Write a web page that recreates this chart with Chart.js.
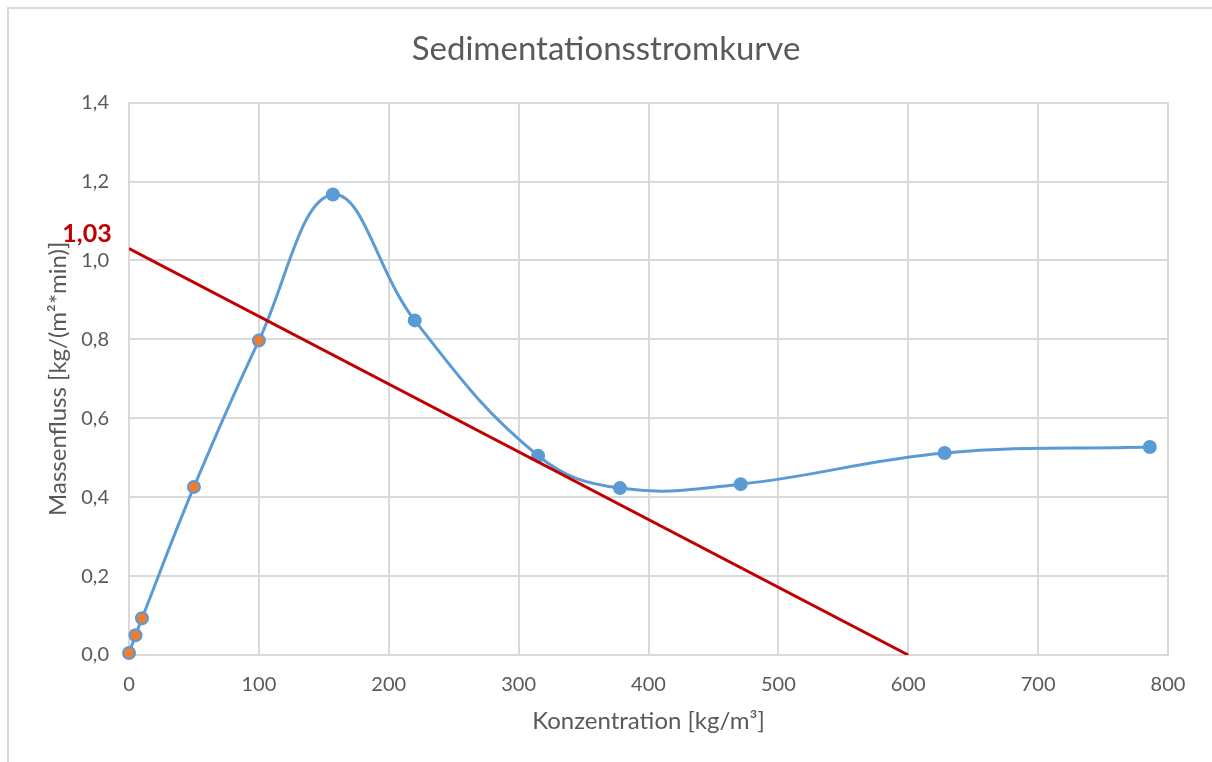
<!DOCTYPE html>
<html>
<head>
<meta charset="utf-8">
<script src="https://cdn.jsdelivr.net/npm/chart.js@4.4.1/dist/chart.umd.min.js"></script>
<style>
  html, body { margin: 0; padding: 0; background: #ffffff; }
  #wrap { width: 1212px; height: 762px; position: relative; }
</style>
</head>
<body>
<div id="wrap"><canvas id="c" width="1212" height="762"></canvas></div>
<script>
// ---- data ----
const concentration = [0, 5, 10, 50, 100, 157, 220, 315, 378, 471, 628, 786];
const massFlux      = [0.005, 0.05, 0.093, 0.426, 0.797, 1.167, 0.848, 0.505, 0.423, 0.433, 0.512, 0.527];
const markerKind    = ['o', 'o', 'o', 'o', 'o', 'b', 'b', 'b', 'b', 'b', 'b', 'b'];
const tangentX      = [0, 600];
const tangentY      = [1.03, 0];
const tangentLabel  = '1,03';
const chartTitle    = 'Sedimentationsstromkurve';
const xTitle        = 'Konzentration [kg/m³]';
const yTitle        = 'Massenfluss [kg/(m²*min)]';

const BLUE = '#5B9BD5', ORANGE = '#ED7D31', RED = '#C00000', GRID = '#d9d9d9', TXT = '#595959';
const FONT = 'Lato';

const curve = concentration.map((x, i) => ({ x: x, y: massFlux[i] }));
const tangent = tangentX.map((x, i) => ({ x: x, y: tangentY[i] }));

const framePlugin = {
  id: 'frame',
  beforeDraw(chart) {
    const ctx = chart.ctx;
    ctx.save();
    ctx.fillStyle = '#ffffff';
    ctx.fillRect(0, 0, chart.width, chart.height);
    ctx.strokeStyle = GRID;
    ctx.lineWidth = 2;
    ctx.beginPath();
    ctx.moveTo(8, chart.height + 5);
    ctx.lineTo(8, 8);
    ctx.lineTo(chart.width + 5, 8);
    ctx.stroke();
    ctx.restore();
  }
};

const labelPlugin = {
  id: 'tangentLabel',
  afterDatasetsDraw(chart) {
    const ctx = chart.ctx;
    const ys = chart.scales.y;
    const py = ys.getPixelForValue(tangentY[0]) - 15;
    ctx.save();
    ctx.font = 'bold 25px ' + FONT;
    ctx.fillStyle = RED;
    ctx.textAlign = 'center';
    ctx.textBaseline = 'middle';
    ctx.fillText(tangentLabel, chart.chartArea.left - 42, py);
    ctx.restore();
  }
};

new Chart(document.getElementById('c'), {
  type: 'scatter',
  data: {
    datasets: [
      {
        label: 'Tangente',
        data: tangent,
        showLine: true,
        borderColor: RED,
        borderWidth: 3,
        pointRadius: 0,
        order: 0
      },
      {
        label: 'Sedimentationsstrom',
        data: curve,
        showLine: true,
        clip: false,
        tension: 0.4,
        borderColor: BLUE,
        borderWidth: 3,
        pointRadius: 6,
        pointBorderWidth: 2,
        pointBorderColor: BLUE,
        pointBackgroundColor: markerKind.map(k => k === 'o' ? ORANGE : BLUE),
        order: 1
      }
    ]
  },
  options: {
    responsive: false,
    animation: false,
    layout: { padding: 0 },
    plugins: {
      legend: { display: false },
      tooltip: { enabled: false },
      title: {
        display: true,
        text: chartTitle,
        color: TXT,
        font: { family: FONT, size: 33, weight: 'normal' },
        padding: { top: 30, bottom: 33 }
      }
    },
    scales: {
      x: {
        type: 'linear',
        min: 0, max: 800,
        ticks: { stepSize: 100, color: TXT, font: { family: FONT, size: 20 }, padding: 18 },
        grid: { color: GRID, lineWidth: 2, drawTicks: false },
        border: { color: GRID, width: 2 },
        title: { display: true, text: xTitle, color: TXT, font: { family: FONT, size: 24 }, padding: { top: 0, bottom: 26 } },
        afterFit(s) { s.height = 107; }
      },
      y: {
        type: 'linear',
        min: 0, max: 1.4,
        ticks: {
          stepSize: 0.2, color: TXT, font: { family: FONT, size: 20 }, padding: 20,
          callback: v => v.toFixed(1).replace('.', ',')
        },
        grid: { color: GRID, lineWidth: 2, drawTicks: false },
        border: { color: GRID, width: 2 },
        title: { display: true, text: yTitle, color: TXT, font: { family: FONT, size: 24 }, padding: { top: 44, bottom: 0 } },
        afterFit(s) { s.width = 129; }
      },
      yRightSpace: {
        type: 'linear',
        position: 'right',
        display: true,
        grid: { display: false, drawTicks: false },
        border: { display: false },
        ticks: { display: false },
        afterFit(s) { s.width = 44; }
      }
    }
  },
  plugins: [framePlugin, labelPlugin]
});
</script>
</body>
</html>
